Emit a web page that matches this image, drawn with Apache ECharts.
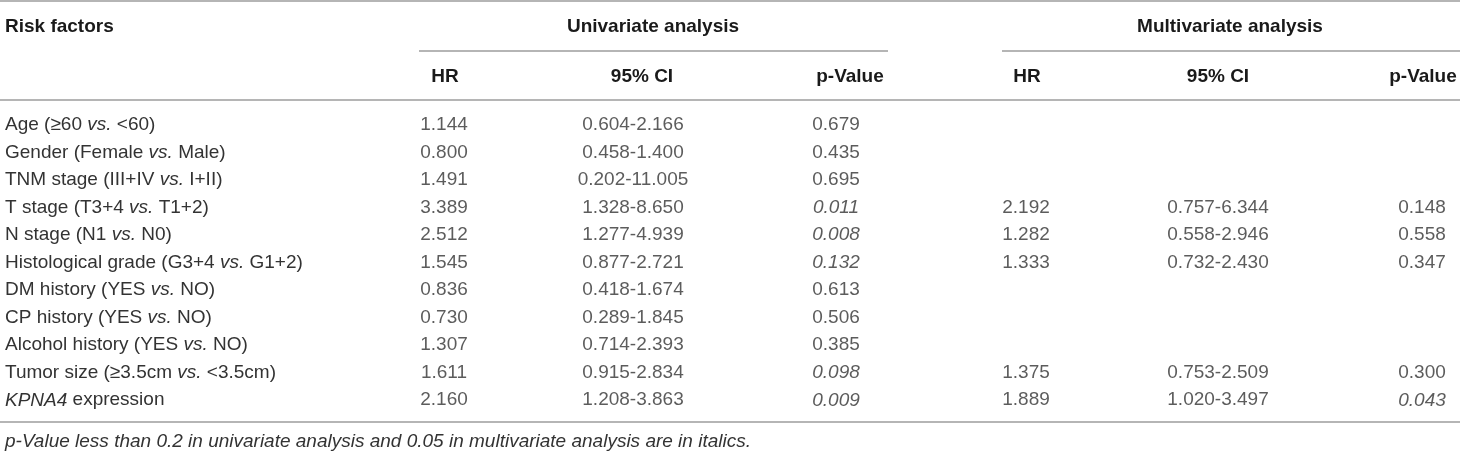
<!DOCTYPE html>
<html>
<head>
<meta charset="utf-8">
<script src="https://cdn.jsdelivr.net/npm/echarts@6/dist/echarts.min.js"></script>
<style>
  html, body { margin: 0; padding: 0; background: #fff; }
  #main { width: 1460px; height: 455px; }
</style>
</head>
<body>
<div id="main"></div>
<script>
// table content
var riskFactors = [
  'Age (≥60 vs. <60)',
  'Gender (Female vs. Male)',
  'TNM stage (III+IV vs. I+II)',
  'T stage (T3+4 vs. T1+2)',
  'N stage (N1 vs. N0)',
  'Histological grade (G3+4 vs. G1+2)',
  'DM history (YES vs. NO)',
  'CP history (YES vs. NO)',
  'Alcohol history (YES vs. NO)',
  'Tumor size (≥3.5cm vs. <3.5cm)',
  'KPNA4 expression'
];
var uniHR = ['1.144', '0.800', '1.491', '3.389', '2.512', '1.545', '0.836', '0.730', '1.307', '1.611', '2.160'];
var uniCI = ['0.604-2.166', '0.458-1.400', '0.202-11.005', '1.328-8.650', '1.277-4.939', '0.877-2.721',
             '0.418-1.674', '0.289-1.845', '0.714-2.393', '0.915-2.834', '1.208-3.863'];
var uniP  = ['0.679', '0.435', '0.695', '0.011', '0.008', '0.132', '0.613', '0.506', '0.385', '0.098', '0.009'];
var mulHR = [null, null, null, '2.192', '1.282', '1.333', null, null, null, '1.375', '1.889'];
var mulCI = [null, null, null, '0.757-6.344', '0.558-2.946', '0.732-2.430', null, null, null, '0.753-2.509', '1.020-3.497'];
var mulP  = [null, null, null, '0.148', '0.558', '0.347', null, null, null, '0.300', '0.043'];
var groupHeaders = ['Univariate analysis', 'Multivariate analysis'];
var subHeaders = ['HR', '95% CI', 'p-Value'];
var firstHeader = 'Risk factors';
var footnote = 'p-Value less than 0.2 in univariate analysis and 0.05 in multivariate analysis are in italics.';
var uniCut = 0.2, mulCut = 0.05;

var FONT = '"Liberation Sans", Arial, Helvetica, sans-serif';
var TXT = '#333333';
var RULE = '#9c9c9c';

var chart = echarts.init(document.getElementById('main'));

// italic bits in the row labels
function richLabel(s) {
  var out = s.replace(/ vs\. /g, ' }{i|vs.}{n| ').replace(/^KPNA4/, '}{i|KPNA4}{n|');
  return '{n|' + out + '}';
}

function cellSeries(x, vals, cut) {
  var data = [];
  vals.forEach(function (v, i) {
    if (v == null) return;
    var it = cut != null && parseFloat(v) < cut;
    data.push({
      value: [x, riskFactors[i]],
      label: { formatter: v, fontStyle: it ? 'italic' : 'normal' }
    });
  });
  return {
    type: 'scatter',
    symbolSize: 1,
    itemStyle: { color: 'rgba(0,0,0,0)' },
    silent: true,
    label: {
      show: true,
      position: 'inside',
      fontFamily: FONT,
      fontSize: 19,
      color: TXT
    },
    data: data
  };
}

var headStyle = { fontFamily: FONT, fontSize: 19, fontWeight: 'bold', fill: '#1a1a1a' };
function headText(txt, x, y, align) {
  return {
    type: 'text', x: x, y: y,
    style: Object.assign({ text: txt, align: align || 'center', verticalAlign: 'middle' }, headStyle)
  };
}
function rule(x1, x2, y) {
  return { type: 'line', shape: { x1: x1, y1: y, x2: x2, y2: y }, style: { stroke: RULE, lineWidth: 1.5 } };
}

var uniX = [444, 633, 836];
var mulX = [1026, 1218, 1422];
var uniHeadX = [445, 642, 850];
var mulHeadX = [1027, 1218, 1423];

var graphics = [
  rule(0, 1460, 1),
  rule(419, 888, 51),
  rule(1002, 1460, 51),
  rule(0, 1460, 100),
  rule(0, 1460, 422),
  headText(firstHeader, 5, 27, 'left'),
  headText(groupHeaders[0], 653, 27),
  headText(groupHeaders[1], 1230, 27),
  {
    type: 'text', x: 5, y: 442,
    style: { text: footnote, fontFamily: FONT, fontSize: 19, fontStyle: 'italic',
             fill: TXT, align: 'left', verticalAlign: 'middle' }
  }
];
subHeaders.forEach(function (h, k) {
  graphics.push(headText(h, uniHeadX[k], 77));
  graphics.push(headText(h, mulHeadX[k], 77));
});

var option = {
  animation: false,
  grid: { left: 0, right: 0, top: 111, bottom: 41 },
  xAxis: { type: 'value', min: 0, max: 1460, show: false },
  yAxis: {
    type: 'category',
    inverse: true,
    data: riskFactors,
    axisLine: { show: false },
    axisTick: { show: false },
    splitLine: { show: false },
    axisLabel: {
      inside: true,
      margin: 5,
      formatter: richLabel,
      rich: {
        n: { fontFamily: FONT, fontSize: 19, color: TXT },
        i: { fontFamily: FONT, fontSize: 19, color: TXT, fontStyle: 'italic' }
      }
    }
  },
  series: [
    cellSeries(uniX[0], uniHR),
    cellSeries(uniX[1], uniCI),
    cellSeries(uniX[2], uniP, uniCut),
    cellSeries(mulX[0], mulHR),
    cellSeries(mulX[1], mulCI),
    cellSeries(mulX[2], mulP, mulCut)
  ],
  graphic: graphics
};

chart.setOption(option);
</script>
</body>
</html>
